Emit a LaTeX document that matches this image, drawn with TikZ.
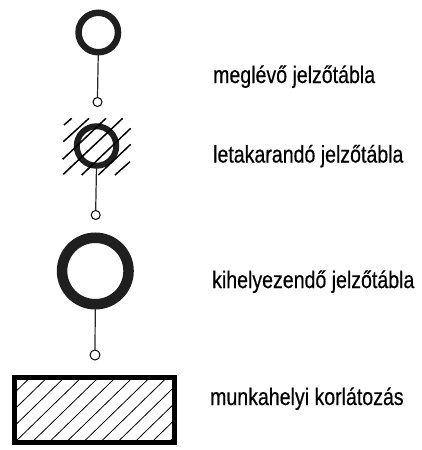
\documentclass[tikz,border=0pt]{standalone}
\usepackage{fontspec}
\newfontfamily\labfont[FakeBold=0.5]{Liberation Sans}
\tikzset{
  lab/.style={anchor=base west,inner sep=0pt,font=\labfont\fontsize{24}{26}\selectfont,xscale=0.815,text=black},
  ring/.style={circle,draw=black!88,fill=white,inner sep=0pt,outer sep=0pt},
  pin/.style={circle,draw=black,fill=white,line width=1pt,minimum size=9pt,inner sep=0pt},
  stem/.style={line width=1.2pt,black!85},
  hatchline/.style={line width=1.5pt,black},
  thinhatch/.style={line width=0.8pt,black}
}
\begin{document}
\begin{tikzpicture}[x=1pt,y=-1pt]
\useasboundingbox (0,0) rectangle (421,450);
% first sign
\node[ring,line width=6.5pt,minimum size=39.5pt] (s1) at (98.3,32.5) {};
\node[pin] (p1) at (97.5,102) {};
\draw[stem] (s1.south) -- (p1.north);
% second sign
\node[ring,line width=6pt,minimum size=39.5pt,fill=none] (s2) at (96.5,146) {};
\node[pin] (p2) at (95.7,215) {};
\draw[stem] (s2.south) -- (p2.north);
\foreach \a/\b/\c/\d in {64/125/71.7/118.3,63.3/141.7/89/118.3,62.7/159.3/106/118.3,63.3/174.3/122.7/118.3,81.7/175/130.7/128.3,98.3/175/130.7/144.3,115/175/130/161.7}
  \draw[hatchline] (\a,\b) -- (\c,\d);
% third sign
\node[ring,line width=10.5pt,minimum size=66.5pt] (s3) at (95.3,271) {};
\node[pin,minimum size=10pt] (p3) at (95,355) {};
\draw[stem] (s3.south) -- (p3.north);
% work zone
\node[draw=black,line width=5pt,minimum width=159.5pt,minimum height=65pt,inner sep=0pt,outer sep=0pt] (z) at (94.25,409.5) {};
\begin{scope}
\clip (z.south west) rectangle (z.north east);
\foreach \k in {-3,...,10}
  \draw[thinhatch] ({12+17.1*\k},445) -- ({85+17.1*\k},374);
\end{scope}
\draw[line width=5pt,black] (z.south west) rectangle (z.north east);
% labels
\node[lab] (t1) at (213,83) {meglévő jelzőtábla};
\node[lab] (t2) at (213,162.5) {letakarandó jelzőtábla};
\node[lab] (t3) at (212,288) {kihelyezendő jelzőtábla};
\node[lab] (t4) at (210,405) {munkahelyi korlátozás};
\end{tikzpicture}
\end{document}
